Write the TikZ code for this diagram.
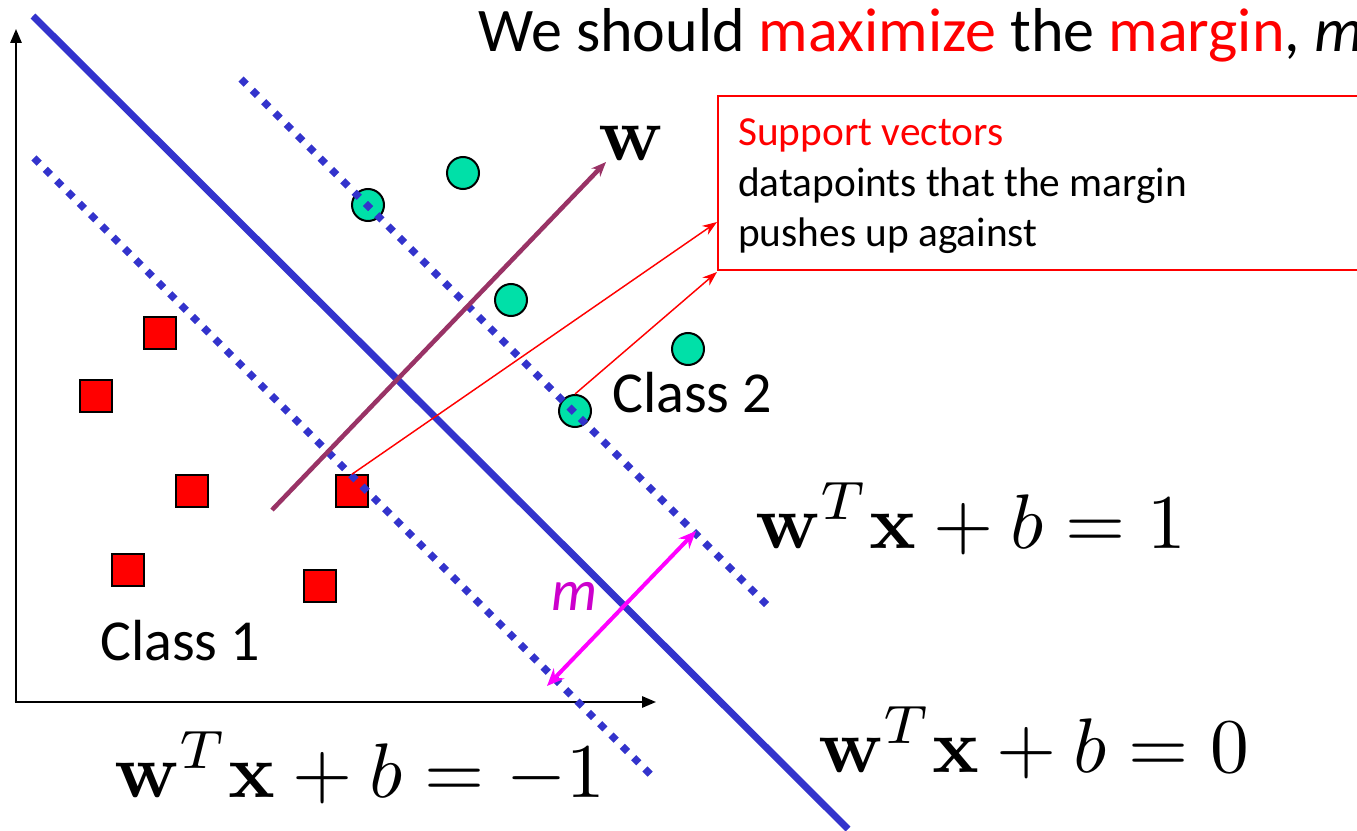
\documentclass[tikz,border=0pt]{standalone}
\usepackage{graphicx}
\usepackage[no-math]{fontspec}
\setmainfont{Carlito}
\usetikzlibrary{arrows.meta}
\definecolor{lineblue}{RGB}{51,51,204}
\definecolor{vecpurple}{RGB}{153,51,102}
\definecolor{ptgreen}{RGB}{0,224,168}
\definecolor{mcol}{RGB}{204,0,204}
\definecolor{arrmag}{RGB}{255,0,255}
\newcommand\bigmath[1]{\scalebox{5.8}{$#1$}}
\tikzset{
  circpt/.style={circle, draw=black, line width=1.5pt, fill=ptgreen, minimum size=24pt, inner sep=0pt},
  sqpt/.style={rectangle, draw=black, line width=1.2pt, fill=red, minimum size=24pt, inner sep=0pt},
  solidsep/.style={lineblue, line width=5.25pt},
  dotsep/.style={lineblue, line width=5.5pt, dash pattern=on 5.5pt off 6.5pt},
  axisline/.style={black, line width=1.5pt, -{Triangle[length=10.5pt, width=8.5pt]}},
  txt/.style={inner sep=0pt, anchor=base west},
  eqn/.style={inner sep=0pt, anchor=base west},
  redarrow/.style={red, line width=1.1pt, -{Stealth[length=11pt, width=8pt]}},
}
\begin{document}
\begin{tikzpicture}[x=0.75pt, y=-0.75pt]
\useasboundingbox (0,0) rectangle (1357,831);
% axes
\coordinate (o) at (16,702);
\coordinate (ytip) at (16,29);
\coordinate (xtip) at (656,702);
\draw[axisline] (o) -- (ytip);
\draw[axisline] ([xshift=-1pt]o) -- (xtip);
% points
\node[circpt] (c1) at (368,205) {};
\node[circpt] (c2) at (463,173) {};
\node[circpt] (c3) at (511,300) {};
\node[circpt] (c4) at (688,349) {};
\node[circpt] (c5) at (575,411) {};
\node[sqpt] (s1) at (160,333) {};
\node[sqpt] (s2) at (96,396) {};
\node[sqpt] (s3) at (192,491) {};
\node[sqpt] (s4) at (352,491) {};
\node[sqpt] (s5) at (128,570) {};
\node[sqpt] (s6) at (320,586) {};
% separating lines
\coordinate (h0a) at (33,16);
\coordinate (h0b) at (848,829);
\coordinate (hpa) at (241,79);
\coordinate (hpb) at (767,605);
\coordinate (hma) at (34,158);
\coordinate (hmb) at (656,780);
\draw[solidsep] (h0a) -- (h0b);
\draw[dotsep] (hpa) -- (hpb);
\draw[dotsep] (hma) -- (hmb);
% w vector
\coordinate (wa) at (272,510);
\coordinate (wb) at (606,162);
\draw[vecpurple, line width=3.4pt, -{Stealth[length=11pt, width=9pt]}] (wa) -- (wb);
\node[eqn] (wlab) at (598,161) {\bigmath{\mathbf{w}}};
% title
\node[txt, font=\fontsize{46.5}{50}\selectfont] (title) at (478,52) {We should \textcolor{red}{maximize} the \textcolor{red}{margin}, \textit{m}};
% support vectors box
\draw[red, line width=1.2pt] (718,96) rectangle (1380,270);
\node[txt, font=\fontsize{31}{36}\selectfont, text=red] (sv1) at (738,146) {Support vectors};
\node[txt, font=\fontsize{31}{36}\selectfont] (sv2) at (738,197) {datapoints that the margin};
\node[txt, font=\fontsize{31}{36}\selectfont] (sv3) at (738,247) {pushes up against};
\coordinate (t1) at (717,222);
\coordinate (t2) at (717,272);
\draw[redarrow] (s4.north) -- (t1);
\draw[redarrow] (c5.north) -- (t2);
% margin arrow
\coordinate (ma) at (547,686);
\coordinate (mb) at (696,531);
\draw[arrmag, line width=3pt, {Stealth[length=13pt, width=11pt]}-{Stealth[length=13pt, width=11pt]}] (ma) -- (mb);
\node[txt, font=\fontsize{43.5}{48}\selectfont\itshape, text=mcol] (mlab) at (551,610) {m};
% class labels
\node[txt, font=\fontsize{43.5}{48}\selectfont] (cl2) at (612,412) {Class 2};
\node[txt, font=\fontsize{43.5}{48}\selectfont] (cl1) at (100,660) {Class 1};
% equations
\node[eqn] (e1) at (755,548) {\bigmath{\mathbf{w}^T\mathbf{x}+b=1}};
\node[eqn] (e0) at (818,772) {\bigmath{\mathbf{w}^T\mathbf{x}+b=0}};
\node[eqn] (em) at (114,797) {\bigmath{\mathbf{w}^T\mathbf{x}+b=-1}};
\end{tikzpicture}
\end{document}
